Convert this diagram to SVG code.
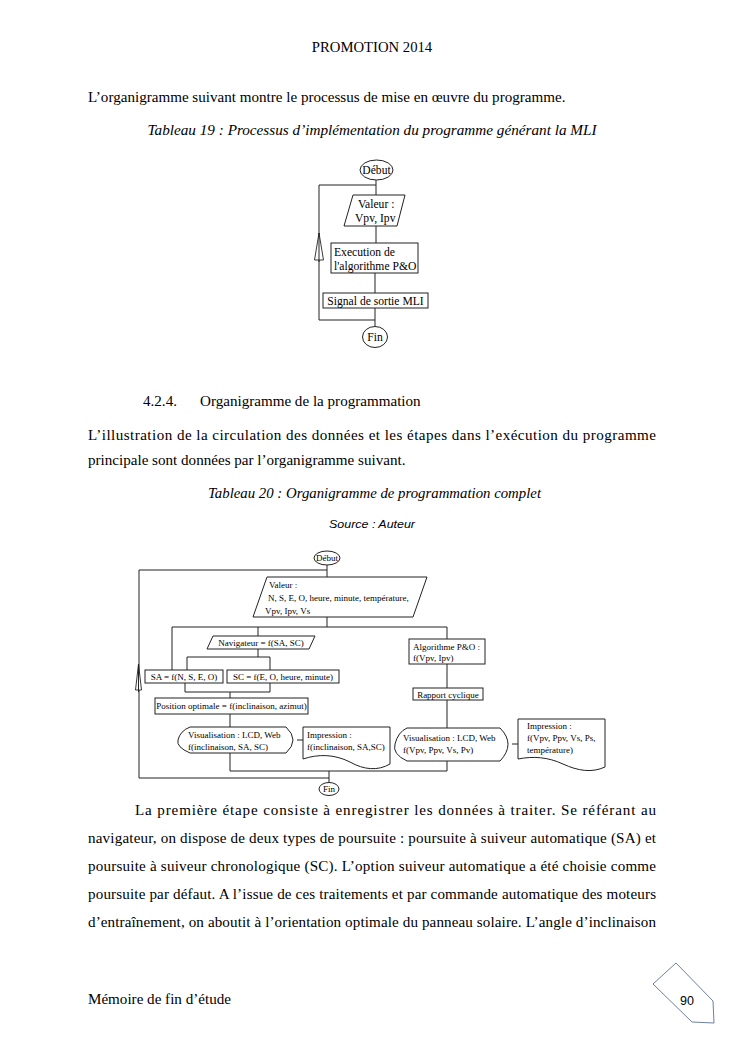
<svg xmlns="http://www.w3.org/2000/svg" width="745" height="1053" viewBox="0 0 745 1053">
<style>
.h{font-family:"Liberation Serif","Times New Roman",serif;font-size:14.7px;fill:#000}
.t{font-family:"Liberation Serif","Times New Roman",serif;font-size:15.1px;fill:#000}
.ti{font-family:"Liberation Serif","Times New Roman",serif;font-size:13.8px;font-style:italic;fill:#000}
.f1{font-family:"Liberation Serif","Times New Roman",serif;font-size:11.6px;fill:#000}
.f2{font-family:"Liberation Serif","Times New Roman",serif;font-size:9px;fill:#000}
.n{fill:#fff;stroke:#222;stroke-width:1}
.c{fill:none;stroke:#222;stroke-width:1}
.ar{fill:#fff;stroke:#222;stroke-width:0.9}
</style>
<rect width="745" height="1053" fill="#fff"/>
<!-- page text -->
<text class="h" x="372" y="52" text-anchor="middle">PROMOTION 2014</text>
<text class="t" x="88" y="102">L’organigramme suivant montre le processus de mise en œuvre du programme.</text>
<text class="ti" x="372" y="135" text-anchor="middle" textLength="449" lengthAdjust="spacingAndGlyphs">Tableau 19 : Processus d’implémentation du programme générant la MLI</text>

<!-- Flowchart 1 -->
<g id="fc1-connectors">
<path class="c" d="M376 180 V195 M319 185 H376 M319 185 V320 H375 M376 226 V243 M375 273 V293 M375 308 V326"/>
<polygon class="ar" points="319,233 314.5,260 323.5,260"/>
<line class="c" x1="319" y1="233" x2="319" y2="262"/>
</g>
<g id="fc1-debut"><ellipse class="n" cx="376.5" cy="170" rx="16.5" ry="10"/><text class="f1" x="376.5" y="174" text-anchor="middle" font-size="11">Début</text></g>
<g id="fc1-valeur"><polygon class="n" points="353,195 405,195 397,226 344,226"/><text class="f1" x="358" y="208" font-size="12">Valeur :</text><text class="f1" x="355" y="222" font-size="12">Vpv, Ipv</text></g>
<g id="fc1-exec"><rect class="n" x="331" y="243" width="87" height="30"/><text class="f1" x="334" y="256">Execution de</text><text class="f1" x="334" y="270">l'algorithme P&amp;O</text></g>
<g id="fc1-signal"><rect class="n" x="323" y="293" width="105" height="15"/><text class="f1" x="375.5" y="304.5" text-anchor="middle">Signal de sortie MLI</text></g>
<g id="fc1-fin"><ellipse class="n" cx="375" cy="337" rx="12.5" ry="10.5"/><text class="f1" x="375" y="341" text-anchor="middle">Fin</text></g>

<text class="t" x="143" y="406">4.2.4.</text>
<text class="t" x="200" y="406">Organigramme de la programmation</text>
<text class="t" x="88" y="440" textLength="568" lengthAdjust="spacing">L’illustration de la circulation des données et les étapes dans l’exécution du programme</text>
<text class="t" x="88" y="465">principale sont données par l’organigramme suivant.</text>
<text class="ti" x="374.5" y="498" text-anchor="middle" textLength="333" lengthAdjust="spacingAndGlyphs">Tableau 20 : Organigramme de programmation complet</text>
<text x="372" y="528" text-anchor="middle" font-family="Liberation Sans, Arial, sans-serif" font-size="10.5" font-style="italic" textLength="86" lengthAdjust="spacingAndGlyphs">Source : Auteur</text>

<!-- Flowchart 2 -->
<g id="fc2-connectors">
<path class="c" d="M327 565 V577 M139 570 H327 M139 570 V778 H329 M327 617 V627 M172 627 H447 M447 627 V639 M172 627 V670 M258 627 V636 M258 649 V657 M187 657 H270 M187 657 V670 M270 657 V670 M185 683 V692 H270 M270 683 V692 M230 692 V698 M230 714 V727 M297 740 H303 M447 664 V688 M447 700 V728 M512 744 H518 M230 753 V771 H447 M447 761 V771 M329 771 V783"/>
<polygon class="ar" points="138.5,664 135.5,690 141.5,690"/>
<line class="c" x1="138.5" y1="664" x2="138.5" y2="692"/>
</g>
<g id="fc2-debut"><ellipse class="n" cx="327" cy="558" rx="13" ry="7"/><text class="f2" x="327" y="561" text-anchor="middle" font-size="8">Début</text></g>
<g id="fc2-valeur"><polygon class="n" points="267,577 427,577 413,617 253,617"/><text class="f2" x="269" y="588">Valeur :</text><text class="f2" x="268" y="601">N, S, E, O, heure, minute, température,</text><text class="f2" x="265" y="614">Vpv, Ipv, Vs</text></g>
<g id="fc2-navigateur"><polygon class="n" points="213,636 315,636 309,649 207,649"/><text class="f2" x="261" y="646" text-anchor="middle">Navigateur = f(SA, SC)</text></g>
<g id="fc2-sa"><rect class="n" x="145" y="670" width="78" height="13"/><text class="f2" x="184" y="680" text-anchor="middle">SA = f(N, S, E, O)</text></g>
<g id="fc2-sc"><rect class="n" x="227" y="670" width="112" height="13"/><text class="f2" x="283" y="680" text-anchor="middle">SC = f(E, O, heure, minute)</text></g>
<g id="fc2-position"><rect class="n" x="155" y="698" width="153" height="16"/><text class="f2" x="231.5" y="709" text-anchor="middle">Position optimale = f(inclinaison, azimut)</text></g>
<g id="fc2-visu1"><path class="n" d="M190 727 H286 Q300 740 286 753 H190 Q176 747 178 740 Q180 731 190 727 Z"/><text class="f2" x="188" y="738">Visualisation : LCD, Web</text><text class="f2" x="188" y="750">f(inclinaison, SA, SC)</text></g>
<g id="fc2-impr1"><path class="n" d="M303 727 H390 V764 C378 771 364 770 350 762 C334 754 318 754 303 759 Z"/><text class="f2" x="307" y="738">Impression :</text><text class="f2" x="307" y="750">f(inclinaison, SA,SC)</text></g>
<g id="fc2-algo"><rect class="n" x="409" y="639" width="76" height="25"/><text class="f2" x="413" y="650">Algorithme P&amp;O :</text><text class="f2" x="413" y="661">f(Vpv, Ipv)</text></g>
<g id="fc2-rapport"><rect class="n" x="413" y="688" width="70" height="12"/><text class="f2" x="448" y="697.5" text-anchor="middle">Rapport cyclique</text></g>
<g id="fc2-visu2"><path class="n" d="M407 728 H500 Q516 744 500 761 H407 Q392 754 395 744 Q398 732 407 728 Z"/><text class="f2" x="403" y="741">Visualisation : LCD, Web</text><text class="f2" x="403" y="753">f(Vpv, Ppv, Vs, Pv)</text></g>
<g id="fc2-impr2"><path class="n" d="M518 719 H605 V767 C592 773 578 771 563 764 C548 757 533 756 518 759 Z"/><text class="f2" x="527" y="729">Impression :</text><text class="f2" x="527" y="741">f(Vpv, Ppv, Vs, Ps,</text><text class="f2" x="527" y="753">température)</text></g>
<g id="fc2-fin"><ellipse class="n" cx="329" cy="789" rx="10" ry="6.5"/><text class="f2" x="329" y="792" text-anchor="middle" font-size="7.5">Fin</text></g>

<!-- body -->
<text class="t" x="135" y="815" textLength="521" lengthAdjust="spacing">La première étape consiste à enregistrer les données à traiter. Se référant au</text>
<text class="t" x="88" y="843" textLength="568" lengthAdjust="spacing">navigateur, on dispose de deux types de poursuite : poursuite à suiveur automatique (SA) et</text>
<text class="t" x="88" y="871" textLength="568" lengthAdjust="spacing">poursuite à suiveur chronologique (SC). L’option suiveur automatique a été choisie comme</text>
<text class="t" x="88" y="899" textLength="568" lengthAdjust="spacing">poursuite par défaut. A l’issue de ces traitements et par commande automatique des moteurs</text>
<text class="t" x="88" y="927" textLength="568" lengthAdjust="spacing">d’entraînement, on aboutit à l’orientation optimale du panneau solaire. L’angle d’inclinaison</text>

<!-- footer -->
<text class="t" x="88" y="1004">Mémoire de fin d’étude</text>
<g id="page-number"><polygon points="676,963 653,984 692,1022 714,1023 713,1001" fill="#fff" stroke="#6f7f9e" stroke-width="1"/><text x="687" y="1005" text-anchor="middle" font-family="Liberation Sans, Arial, sans-serif" font-size="12.5" fill="#000">90</text></g>
</svg>
